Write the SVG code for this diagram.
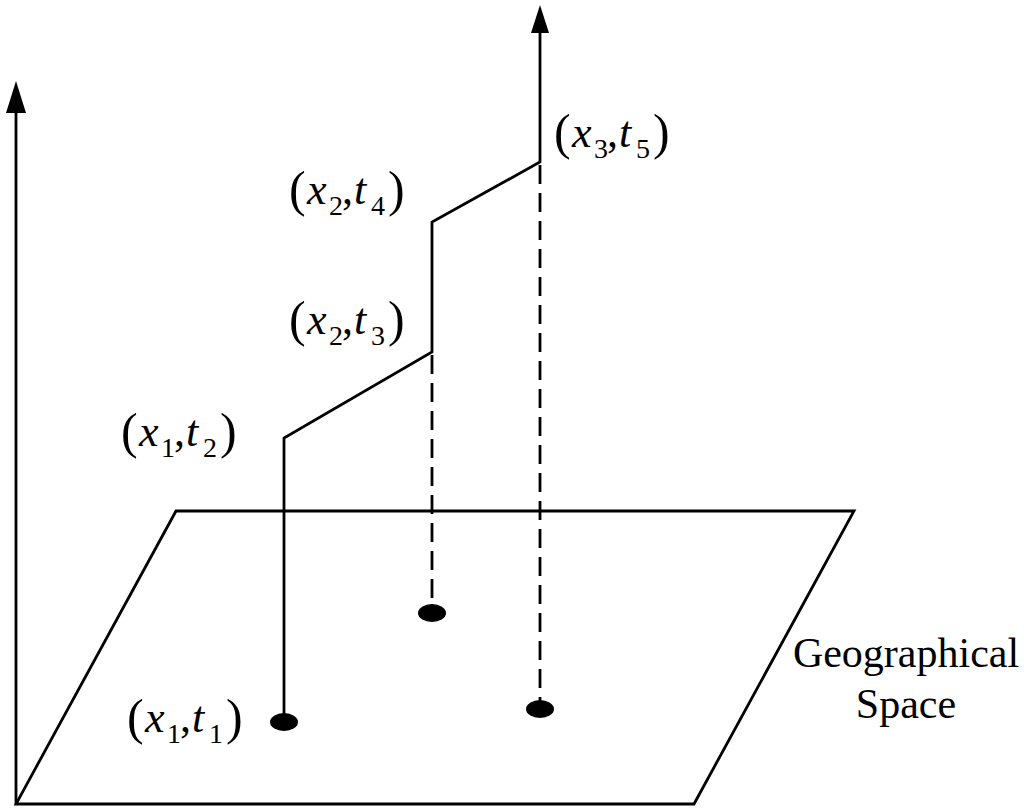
<svg xmlns="http://www.w3.org/2000/svg" width="1024" height="810" viewBox="0 0 1024 810">
<style>
.ln{fill:none;stroke:#000;stroke-width:2.8}
.dash{fill:none;stroke:#000;stroke-width:2.8;stroke-dasharray:19 9}
.dot{fill:#000}
.lab{font-family:"Liberation Serif","Times New Roman",serif;font-size:44px;fill:#000}
.par{font-size:50px}
.it{font-style:italic}
.sub{font-size:28px}
.geo{font-family:"Liberation Serif","Times New Roman",serif;font-size:42px;fill:#000;text-anchor:middle}
</style>
<rect width="1024" height="810" fill="#fff"/>
<g id="plane">
<polygon class="ln" points="176,511 854,511 694,804 16,804"/>
</g>
<g id="connectors">
<line class="ln" x1="16" y1="804" x2="16" y2="100"/>
<path d="M6,113 L16,81 L26,113 Z" fill="#000"/>
<path d="M531,33 L540,5 L549,33 Z" fill="#000"/>
<polyline class="ln" points="284,722 284,438 432,352 432,222 540,162 540,30"/>
<line class="dash" x1="432" y1="355" x2="432" y2="606"/>
<line class="dash" x1="540" y1="165" x2="540" y2="702"/>
</g>
<g id="dots">
<ellipse class="dot" cx="284" cy="722" rx="14" ry="9"/>
<ellipse class="dot" cx="432" cy="613" rx="14" ry="9"/>
<ellipse class="dot" cx="540" cy="709" rx="14" ry="9"/>
</g>
<g id="label-x3t5" class="lab">
<text x="554" y="149" class="par">(</text><text x="572" y="147" class="it">x</text><text x="594" y="158" class="sub">3</text><text x="607" y="147">,</text><text x="619" y="147" class="it">t</text><text x="636" y="158" class="sub">5</text><text x="653" y="149" class="par">)</text>
</g>
<g id="label-x2t4" class="lab">
<text x="289" y="206" class="par">(</text><text x="307" y="204" class="it">x</text><text x="329" y="215" class="sub">2</text><text x="342" y="204">,</text><text x="354" y="204" class="it">t</text><text x="371" y="215" class="sub">4</text><text x="388" y="206" class="par">)</text>
</g>
<g id="label-x2t3" class="lab">
<text x="289" y="336" class="par">(</text><text x="307" y="334" class="it">x</text><text x="329" y="345" class="sub">2</text><text x="342" y="334">,</text><text x="354" y="334" class="it">t</text><text x="371" y="345" class="sub">3</text><text x="388" y="336" class="par">)</text>
</g>
<g id="label-x1t2" class="lab">
<text x="121" y="448" class="par">(</text><text x="139" y="446" class="it">x</text><text x="161" y="457" class="sub">1</text><text x="174" y="446">,</text><text x="186" y="446" class="it">t</text><text x="203" y="457" class="sub">2</text><text x="220" y="448" class="par">)</text>
</g>
<g id="label-x1t1" class="lab">
<text x="127" y="734" class="par">(</text><text x="145" y="732" class="it">x</text><text x="167" y="743" class="sub">1</text><text x="180" y="732">,</text><text x="192" y="732" class="it">t</text><text x="209" y="743" class="sub">1</text><text x="226" y="734" class="par">)</text>
</g>
<g id="label-geo">
<text class="geo" x="906" y="667">Geographical</text>
<text class="geo" x="906" y="718">Space</text>
</g>
</svg>
